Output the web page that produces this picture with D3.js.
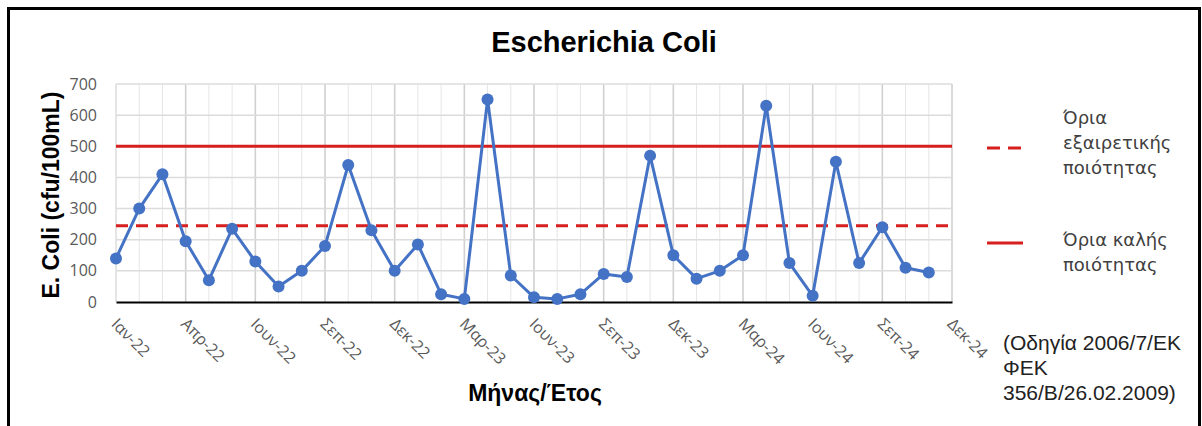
<!DOCTYPE html>
<html>
<head>
<meta charset="utf-8">
<script src="https://cdn.jsdelivr.net/npm/d3@7"></script>
<style>
  body { margin: 0; background: #fff; }
  svg { display: block; }
</style>
</head>
<body>
<div class="chart-container"></div>
<script>
// monthly samples, Jan-22 .. Dec-24
const values = [
  140, 300, 410, 195, 70, 235, 130, 50, 100, 180, 440, 230,
  100, 185, 25, 10, 650, 85, 15, 10, 25, 90, 80, 470,
  150, 75, 100, 150, 630, 125, 20, 450, 125, 240, 110, 95
];

// labels every 3 steps on the axis
const tickLabels = [
  "Ιαν-22", "Απρ-22", "Ιουν-22", "Σεπ-22", "Δεκ-22", "Μαρ-23", "Ιουν-23",
  "Σεπ-23", "Δεκ-23", "Μαρ-24", "Ιουν-24", "Σεπ-24", "Δεκ-24"
];

const yTicks = [0, 100, 200, 300, 400, 500, 600, 700];

const limitExcellent = 245;
const limitGood = 500;

const RED = "#d61f1f";
const BLUE = "#4472C4";

const width = 1202, height = 426;
const margin = { left: 116, top: 84, right: 250, bottom: 124 };
const innerW = 952 - margin.left;
const innerH = 302 - margin.top;

const svg = d3.select(".chart-container")
  .append("svg")
  .attr("width", width)
  .attr("height", height);

// frame
svg.append("rect")
  .attr("x", 8.5).attr("y", 8.5)
  .attr("width", 1191).attr("height", 430)
  .attr("fill", "none")
  .attr("stroke", "#000")
  .attr("stroke-width", 3);

const g = svg.append("g")
  .attr("transform", "translate(" + margin.left + "," + margin.top + ")");

const x = d3.scaleLinear().domain([0, values.length]).range([0, innerW]);
const y = d3.scaleLinear().domain([0, 700]).range([innerH, 0]);

// vertical gridlines (every sample, darker every 3)
g.append("g")
  .selectAll("line")
  .data(d3.range(1, values.length + 1))
  .enter()
  .append("line")
  .attr("x1", d => x(d)).attr("x2", d => x(d))
  .attr("y1", 0).attr("y2", innerH)
  .attr("stroke", d => d % 3 === 0 ? "#d0d0d0" : "#e6e6e6")
  .attr("stroke-width", d => d % 3 === 0 ? 1.6 : 1);

// horizontal gridlines
g.append("g")
  .selectAll("line")
  .data(yTicks.slice(1))
  .enter()
  .append("line")
  .attr("x1", 0).attr("x2", innerW)
  .attr("y1", d => y(d)).attr("y2", d => y(d))
  .attr("stroke", "#dcdcdc")
  .attr("stroke-width", 1.5);

// left edge line
g.append("line")
  .attr("x1", 0).attr("x2", 0).attr("y1", 0).attr("y2", innerH)
  .attr("stroke", "#dcdcdc").attr("stroke-width", 1.5);

// y axis labels
const yAxis = g.append("g")
  .call(d3.axisLeft(y).tickValues(yTicks).tickSize(0).tickPadding(19));
yAxis.select(".domain").remove();
yAxis.selectAll("text")
  .attr("font-family", "'Open Sans', sans-serif")
  .attr("font-size", 16)
  .attr("fill", "#595959");

// x axis
const xAxis = g.append("g")
  .attr("transform", "translate(0," + innerH + ")")
  .call(d3.axisBottom(x)
    .tickValues(d3.range(0, values.length + 1, 3))
    .tickSize(0)
    .tickFormat((d, i) => tickLabels[i]));
xAxis.select(".domain")
  .attr("stroke", "#000")
  .attr("stroke-width", 2);
xAxis.selectAll("text")
  .attr("font-family", "'Open Sans', sans-serif")
  .attr("font-size", 16)
  .attr("fill", "#595959")
  .attr("text-anchor", "start")
  .attr("dy", 0)
  .attr("transform", "translate(-4,21) rotate(45)");

// limit lines
g.append("line")
  .attr("x1", 0).attr("x2", innerW)
  .attr("y1", y(limitGood)).attr("y2", y(limitGood))
  .attr("stroke", RED).attr("stroke-width", 3);

g.append("line")
  .attr("x1", 0).attr("x2", innerW)
  .attr("y1", y(limitExcellent)).attr("y2", y(limitExcellent))
  .attr("stroke", RED).attr("stroke-width", 3)
  .attr("stroke-dasharray", "12,8");

// series
const line = d3.line().x((d, i) => x(i)).y(d => y(d));
g.append("path")
  .datum(values)
  .attr("fill", "none")
  .attr("stroke", BLUE)
  .attr("stroke-width", 3)
  .attr("stroke-linejoin", "round")
  .attr("d", line);

g.selectAll(".dot")
  .data(values)
  .enter()
  .append("circle")
  .attr("class", "dot")
  .attr("cx", (d, i) => x(i))
  .attr("cy", d => y(d))
  .attr("r", 6)
  .attr("fill", BLUE);

// titles
svg.append("text")
  .attr("x", 604).attr("y", 52)
  .attr("text-anchor", "middle")
  .attr("font-family", "Arial, 'Liberation Sans', sans-serif")
  .attr("font-weight", "bold")
  .attr("font-size", 29)
  .attr("fill", "#000")
  .text("Escherichia Coli");

svg.append("text")
  .attr("transform", "translate(59,195) rotate(-90)")
  .attr("text-anchor", "middle")
  .attr("font-family", "Arial, 'Liberation Sans', sans-serif")
  .attr("font-weight", "bold")
  .attr("font-size", 23)
  .attr("fill", "#000")
  .text("E. Coli (cfu/100mL)");

svg.append("text")
  .attr("x", 535).attr("y", 401)
  .attr("text-anchor", "middle")
  .attr("font-family", "Arial, 'Liberation Sans', sans-serif")
  .attr("font-weight", "bold")
  .attr("font-size", 23)
  .attr("fill", "#000")
  .text("Μήνας/Έτος");

// legend
const legend = svg.append("g");
legend.append("line")
  .attr("x1", 987).attr("x2", 1023).attr("y1", 148).attr("y2", 148)
  .attr("stroke", RED).attr("stroke-width", 3)
  .attr("stroke-dasharray", "13,8");
legend.append("line")
  .attr("x1", 987).attr("x2", 1023).attr("y1", 243).attr("y2", 243)
  .attr("stroke", RED).attr("stroke-width", 3);

const legendText = [
  { y: 124, lines: ["Όρια", "εξαιρετικής", "ποιότητας"] },
  { y: 246, lines: ["Όρια καλής", "ποιότητας"] }
];
legendText.forEach(item => {
  const t = legend.append("text")
    .attr("x", 1063).attr("y", item.y)
    .attr("font-family", "'DejaVu Sans', sans-serif")
    .attr("font-size", 18)
    .attr("fill", "#404040");
  item.lines.forEach((l, i) => {
    t.append("tspan").attr("x", 1063).attr("dy", i === 0 ? 0 : 25).text(l);
  });
});

// source note
const noteLines = ["(Οδηγία 2006/7/ΕΚ", "ΦΕΚ", "356/Β/26.02.2009)"];
const note = svg.append("text")
  .attr("x", 1003).attr("y", 350)
  .attr("font-family", "Arial, 'Liberation Sans', sans-serif")
  .attr("font-size", 21)
  .attr("fill", "#222");
noteLines.forEach((l, i) => {
  note.append("tspan").attr("x", 1003).attr("dy", i === 0 ? 0 : 25).text(l);
});
</script>
</body>
</html>
